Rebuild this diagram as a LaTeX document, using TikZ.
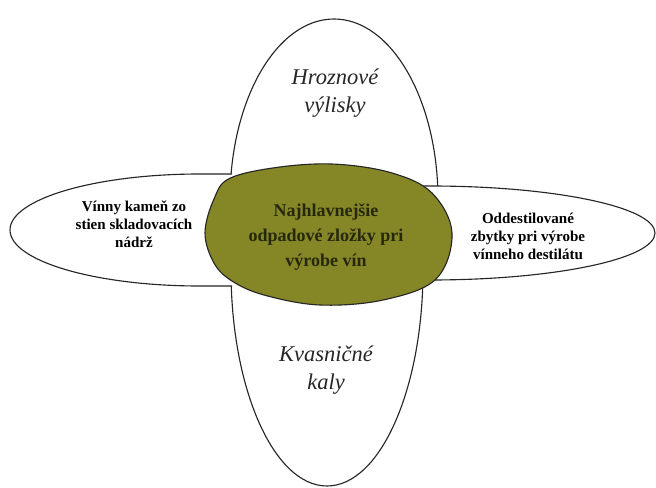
\documentclass[tikz,border=0pt]{standalone}
\usepackage{fontspec}
\setmainfont{Liberation Serif}
\usepackage{tikz}
\usetikzlibrary{positioning}
\definecolor{olivova}{RGB}{133,134,38}
\definecolor{tmava}{RGB}{38,40,14}

\begin{document}
\begin{tikzpicture}[
  petal/.style={draw=black!85, line width=0.8pt, fill=white},
  jadro/.style={draw=black!85, line width=0.8pt, fill=olivova},
  stredtext/.style={align=center, text=tmava, font=\fontsize{12.8}{17.8}\selectfont\bfseries},
  boktext/.style={align=center, font=\fontsize{10.7}{12.8}\selectfont\bfseries},
  kurziva/.style={align=center, text=black!85, font=\fontsize{16}{19.5}\selectfont\itshape}
]
\useasboundingbox (0,0) rectangle (16.4,12.175);

% Upper and lower petals
\draw[petal] (5.75,7.175) arc[start angle=180, end angle=0, x radius=2.6, y radius=4.525];
\draw[petal] (5.775,5.425) arc[start angle=180, end angle=360, x radius=2.4, y radius=5.4];

% Side petals
\draw[petal] (5.8,7.825) -- (5.0,7.825)
  arc[start angle=90, end angle=270, x radius=4.75, y radius=1.4] -- (5.8,5.025);
\draw[petal] (10.575,7.525) -- (10.75,7.525)
  arc[start angle=90, end angle=-90, x radius=5.625, y radius=1.175] -- (10.575,5.175);

% Centre blob
\draw[jadro] plot[smooth cycle, tension=0.6] coordinates {
  (5.125,6.35) (5.35,7.2) (5.75,7.72) (7.0,8.0) (8.4,8.07) (9.8,7.85)
  (10.8,7.35) (11.3,6.35) (10.9,5.2) (9.6,4.68) (8.0,4.55) (6.6,4.8)
  (5.8,5.15) (5.35,5.6)};

% Labels
\node[stredtext] (odpad) at (8.15,6.25)
  {Najhlavnejšie\\odpadové zložky pri\\výrobe vín};
\node[kurziva] (vylisky) at (8.375,9.85) {Hroznové\\výlisky};
\node[kurziva] (kaly) at (8.15,2.925) {Kvasničné\\kaly};
\node[boktext] (kamen) at (3.35,6.575)
  {Vínny kameň zo\\stien skladovacích\\nádrž};
\node[boktext] (destilat) at (13.2,6.275)
  {Oddestilované\\zbytky pri výrobe\\vínneho destilátu};

\end{tikzpicture}
\end{document}
